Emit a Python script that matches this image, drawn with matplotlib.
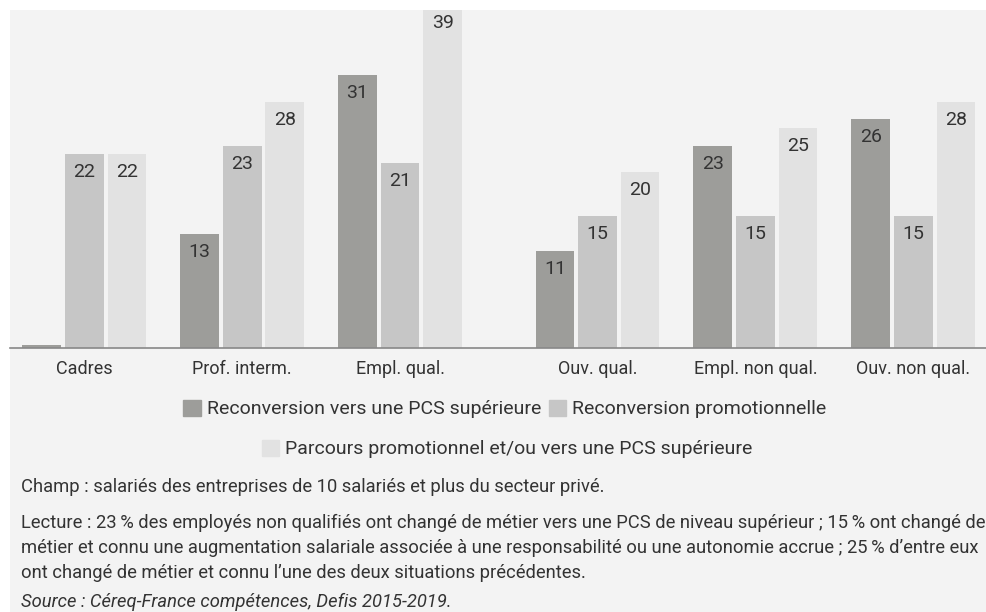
import numpy as np
import matplotlib.pyplot as plt
from matplotlib.patches import Patch, Rectangle

plt.rcParams['font.family'] = ['Roboto', 'DejaVu Sans']

# data
categories = ['Cadres', 'Prof. interm.', 'Empl. qual.', 'Ouv. qual.', 'Empl. non qual.', 'Ouv. non qual.']
series_names = ['Reconversion vers une PCS supérieure',
                'Reconversion promotionnelle',
                'Parcours promotionnel et/ou vers une PCS supérieure']
reconv_sup = [0.3, 13, 31, 11, 23, 26]
reconv_promo = [22, 23, 21, 15, 15, 15]
parcours = [22, 28, 39, 20, 25, 28]
show_label = [False, True, True, True, True, True]

nb = '\u202f'  # narrow no-break space, as in the French source
notes = [
    'Champ : salariés des entreprises de 10 salariés et plus du secteur privé.',
    f'Lecture : 23{nb}% des employés non qualifiés ont changé de métier vers une PCS de niveau supérieur ; 15{nb}% ont changé de\n'
    f'métier et connu une augmentation salariale associée à une responsabilité ou une autonomie accrue ; 25{nb}% d\u2019entre eux\n'
    'ont changé de métier et connu l\u2019une des deux situations précédentes.',
]
source = 'Source : Céreq-France compétences, Defis 2015-2019.'

colors = ['#9d9d9a', '#c6c6c6', '#e2e2e2']
bg = '#f3f3f3'
txt = '#333333'

W, H = 986, 612
fig = plt.figure(figsize=(W / 100, H / 100), dpi=100)
fig.patch.set_facecolor('white')
fig.patches.append(Rectangle((10 / W, 0), 1 - 10 / W, 1 - 10 / H, transform=fig.transFigure,
                             facecolor=bg, edgecolor='none', zorder=-10))

ax = fig.add_axes([10 / W, 1 - 348 / H, 1 - 10 / W, 338 / H])
ax.set_facecolor(bg)

# group centres, with an extra gap between the 3rd and 4th groups
centers = np.arange(len(categories), dtype=float)
centers[3:] += 0.25
step = 0.27
width = 0.245
all_series = [reconv_sup, reconv_promo, parcours]
for i, (vals, c, name) in enumerate(zip(all_series, colors, series_names)):
    xs = centers + (i - 1) * step
    bars = ax.bar(xs, vals, width=width, color=c, label=name)
    for x, v, ok in zip(xs, vals, show_label):
        if i == 0 and not ok:
            continue
        ax.annotate(f'{v:g}', xy=(x, v), xytext=(0, -13), textcoords='offset points',
                    ha='center', va='center', fontsize=14, color=txt, annotation_clip=False)

ax.set_ylim(0, 38.4)
ax.set_xlim(centers[0] - 0.47, centers[-1] + 0.46)
for s in ['top', 'right', 'left']:
    ax.spines[s].set_visible(False)
ax.spines['bottom'].set_color('#888888')
ax.spines['bottom'].set_linewidth(1.2)
ax.set_yticks([])
ax.set_xticks(centers)
ax.set_xticklabels(categories, fontsize=13, color=txt)
ax.tick_params(axis='x', length=0, pad=9)

h = [Patch(color=c) for c in colors]
leg1 = fig.legend(h[:2], series_names[:2], loc='center', bbox_to_anchor=(505 / W, 1 - 409 / H), ncol=2,
                  frameon=False, fontsize=14, handlelength=0.9, handleheight=0.9,
                  handletextpad=0.3, columnspacing=0.4, labelcolor=txt)
leg2 = fig.legend(h[2:], series_names[2:], loc='center', bbox_to_anchor=(507 / W, 1 - 449 / H),
                  frameon=False, fontsize=14, handlelength=0.9, handleheight=0.9,
                  handletextpad=0.3, labelcolor=txt)

fig.text(21 / W, 1 - 487 / H, notes[0], fontsize=13.2, color=txt, va='center')
fig.text(21 / W, 1 - 548 / H, notes[1], fontsize=13.2, color=txt, va='center', linespacing=1.52)
fig.text(21 / W, 1 - 602 / H, source, fontsize=13.2, color=txt, va='center', style='italic')

fig.savefig('out.png', dpi=100)
